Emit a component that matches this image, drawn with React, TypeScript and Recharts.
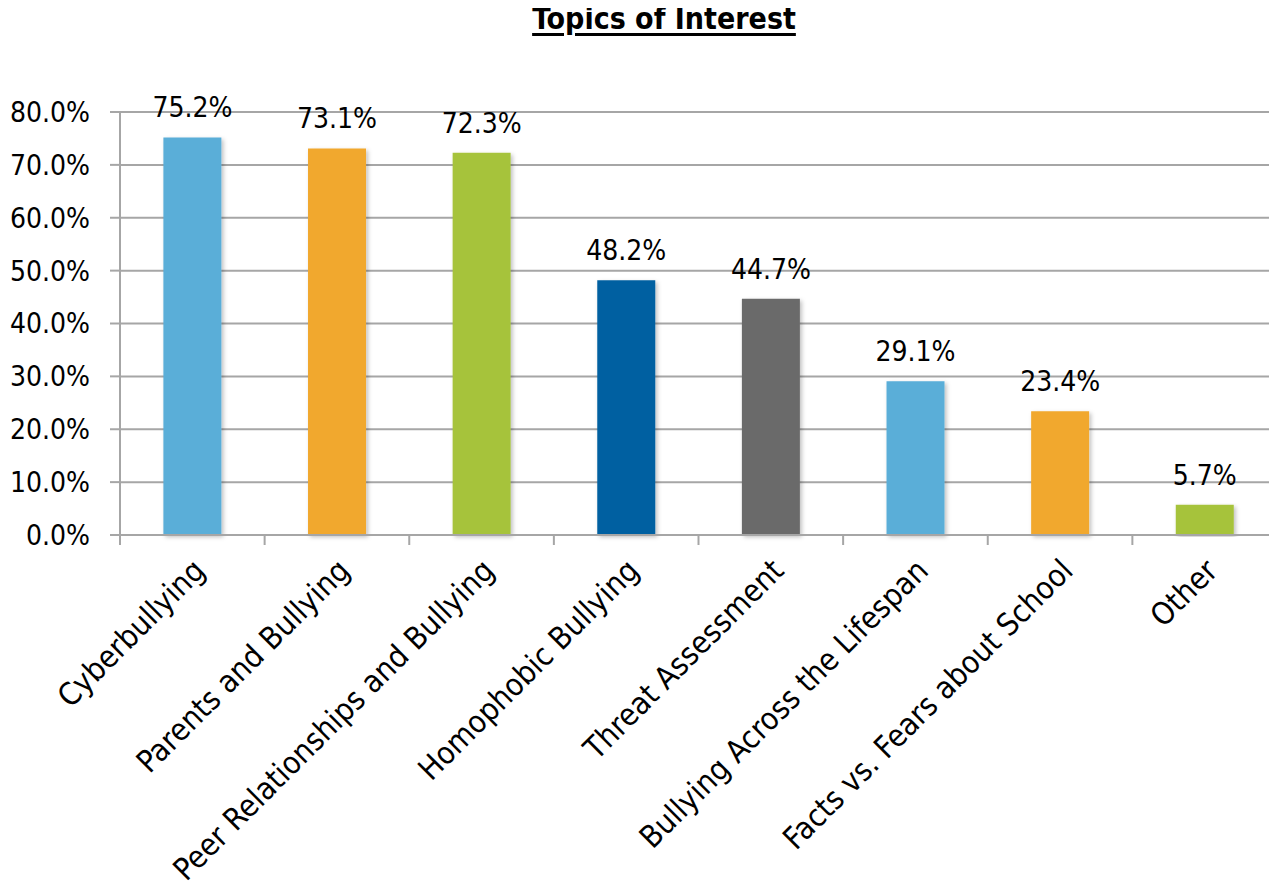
import React from "react";
import { BarChart, Bar, XAxis, YAxis, CartesianGrid, Cell, LabelList } from "recharts";

const categories = [
  "Cyberbullying",
  "Parents and Bullying",
  "Peer Relationships and Bullying",
  "Homophobic Bullying",
  "Threat Assessment",
  "Bullying Across the Lifespan",
  "Facts vs. Fears about School",
  "Other",
];
const values = [0.752, 0.731, 0.723, 0.482, 0.447, 0.291, 0.234, 0.057];
const colors = ["#5AAED8", "#F1A82F", "#A6C33A", "#0061A1", "#6B6B6B", "#5AAED8", "#F1A82F", "#A6C33A"];
const yTicks = [0, 0.1, 0.2, 0.3, 0.4, 0.5, 0.6, 0.7, 0.8];
const title = "Topics of Interest";

const data = categories.map((c, i) => ({ name: c, value: values[i] }));

const FONT = "'DejaVu Sans Condensed', 'DejaVu Sans', sans-serif";
const GRID = "#A6A6A6";

const pct = (v: number) => (v * 100).toFixed(1) + "%";

const XTick = (props: any) => {
  const { x, y, payload, width, visibleTicksCount, index } = props;
  const half = width / visibleTicksCount / 2;
  const isLast = index === visibleTicksCount - 1;
  return (
    <g>
      <line x1={x - half} x2={x - half} y1={y} y2={y + 10} stroke={GRID} strokeWidth={2} />
      {isLast && <line x1={x + half - 1} x2={x + half - 1} y1={y} y2={y + 10} stroke={GRID} strokeWidth={2} />}
      <g transform={`translate(${x - 1},${y + 22})`}>
        <text
          transform="rotate(-45)"
          textAnchor="end"
          dy="0.71em"
          fontSize={31}
          fontFamily={FONT}
          fill="#000"
        >
          {payload.value}
        </text>
      </g>
    </g>
  );
};

export default function App() {
  return (
    <div style={{ position: "relative", width: 1277, height: 890, margin: -8, background: "#fff" }}>
      <div
        style={{
          position: "absolute",
          left: 0,
          top: 1,
          width: 1328,
          textAlign: "center",
          fontFamily: FONT,
          fontWeight: 700,
          fontSize: 30,
          textDecoration: "underline",
          textUnderlineOffset: 4,
          color: "#000",
        }}
      >
        {title}
      </div>
      <BarChart
        width={1277}
        height={890}
        data={data}
        margin={{ top: 112, right: 0, bottom: 0, left: 0 }}
        barCategoryGap="30%"
      >
        <defs>
          <filter id="shadow" x="-20%" y="-5%" width="140%" height="110%">
            <feDropShadow dx="2" dy="2" stdDeviation="2" floodColor="#000" floodOpacity="0.25" />
          </filter>
        </defs>
        <CartesianGrid vertical={false} stroke={GRID} strokeWidth={2} />
        <XAxis
          dataKey="name"
          interval={0}
          tickLine={false}
          tickSize={0}
          tickMargin={0}
          axisLine={{ stroke: GRID, strokeWidth: 2 }}
          tick={<XTick />}
          height={355}
        />
        <YAxis
          domain={[0, 0.8]}
          ticks={yTicks}
          tickFormatter={pct}
          width={120}
          tick={{ fontSize: 28, fontFamily: FONT, fill: "#000" }}
          tickLine={{ stroke: GRID, strokeWidth: 2 }}
          tickSize={10}
          tickMargin={20}
          axisLine={{ stroke: GRID, strokeWidth: 2 }}
        />
        <Bar dataKey="value" isAnimationActive={false} filter="url(#shadow)">
          {data.map((d, i) => (
            <Cell key={d.name} fill={colors[i]} />
          ))}
          <LabelList
            dataKey="value"
            position="top"
            offset={20}
            formatter={(v: any) => pct(Number(v))}
            style={{ fontSize: 28, fontFamily: FONT, fill: "#000" }}
          />
        </Bar>
      </BarChart>
    </div>
  );
}
